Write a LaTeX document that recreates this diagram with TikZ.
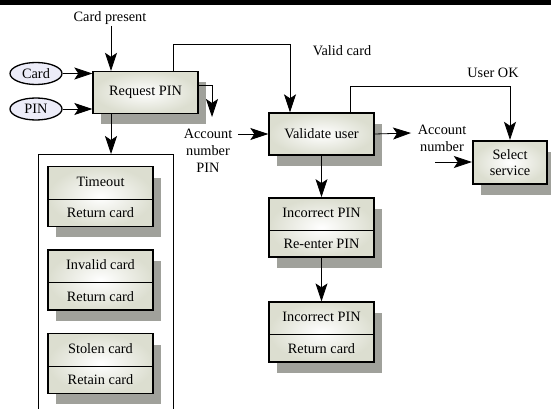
\documentclass[tikz,border=0pt]{standalone}
\usepackage{fontspec}
\setmainfont{Liberation Serif}
\usetikzlibrary{arrows.meta,positioning,shapes.geometric,shapes.multipart,shadows,calc}
\definecolor{boxfill}{RGB}{220,222,208}
\definecolor{shadowgrey}{RGB}{160,161,155}
\definecolor{ovalfill}{RGB}{236,236,248}
\tikzset{activity/.style={
  % The shape:
  rectangle,
  % The size:
  minimum width=105pt, minimum height=42pt,
  % The border:
  line width=1.4pt, draw=black,
  % The filling:
  inner color=white, outer color=boxfill,
  % The shadow:
  drop shadow={shadow xshift=8pt, shadow yshift=-11pt, fill=shadowgrey, opacity=1},
  }
}
\tikzset{twopart/.style={
  % Two stacked parts:
  activity, rectangle split, rectangle split parts=2,
  rectangle split draw splits=false,
  % The size of each part:
  text height=11pt, text depth=4pt, inner ysep=8pt,
  }
}
\tikzset{source/.style={
  % The shape:
  ellipse,
  minimum width=52pt, minimum height=22pt, inner sep=0pt,
  % The rest
  line width=1.3pt, draw=black, fill=ovalfill,
  }
}

\begin{document}
\begin{tikzpicture}[x=1pt, y=-1pt, font=\fontsize{14.3pt}{17pt}\selectfont,
    flow/.style={line width=0.8pt, -{Stealth[length=18pt, width=12pt, inset=4pt]}},
    divider/.style={line width=0.6pt}]
  \useasboundingbox (0,0) rectangle (551,409);
  \fill (0,0) rectangle (551,5);

  % Inputs
  \node (card) [source] at (36,73.5) {Card};
  \node (pin)  [source] at (36,109)  {PIN};

  % Container of the failure cases
  \node (alarms) [draw, line width=0.8pt, minimum width=135pt, minimum height=270pt,
        anchor=north] at (105.5,154) {};

  % Activities
  \node (reqpin) [activity] at (145.5,92.5) {Request PIN};
  \node (valid)  [activity] at (321.5,134)  {Validate user};
  \node (select) [activity, minimum width=74pt, minimum height=43pt, line width=2.4pt,
        align=center, font=\fontsize{14.3pt}{16pt}\selectfont] at (510,162.5) {Select\\service};

  \node (retry)  [twopart] at (321.5,227.5) {Incorrect PIN \nodepart{two} Re-enter PIN};
  \node (fail)   [twopart] at (321.5,332)   {Incorrect PIN \nodepart{two} Return card};

  \node (timeout) [twopart] at (100.5,196.5) {Timeout \nodepart{two} Return card};
  \node (invalid) [twopart] at (100.5,280)   {Invalid card \nodepart{two} Return card};
  \node (stolen)  [twopart] at (100.5,363.5) {Stolen card \nodepart{two} Retain card};

  \foreach \n in {retry,fail,timeout,invalid,stolen}
    \draw[divider] (\n.text split west) -- (\n.text split east);

  % Labels
  \node (present) at (110,18)  {Card present};
  \node (validlbl) at (342,51) {Valid card};
  \node (userok) at (493,73)   {User OK};
  \node (acctpin) [align=center] at (208,151) {Account\\number\\PIN};
  \node (acctnum) [align=center] at (442,138) {Account\\number};

  % Free ends
  \coordinate (cardin)  at (111,26);
  \coordinate (pinout)  at (212,117);
  \coordinate (acctin)  at (238,134);
  \coordinate (acctout) at (411,133);
  \coordinate (selin)   at (435,162);

  % Connectors
  \draw[flow] (cardin) -- (cardin |- reqpin.north);
  \draw[flow] (card.east) -- (reqpin.west |- card.east);
  \draw[flow] (pin.east) -- (reqpin.west |- pin.east);
  \draw[flow] ([yshift=7.5pt]reqpin.east) -| (pinout);
  \draw[flow] ([xshift=5.5pt]alarms.north |- reqpin.south) -- ([xshift=5.5pt]alarms.north);
  \draw[flow] ([xshift=27.5pt]reqpin.north) -- ++(0,-26) -| ([xshift=-31.5pt]valid.north);
  \draw[flow] (acctin) -- (acctin -| valid.west);
  \draw[flow] ([xshift=28.5pt]valid.north) -- ++(0,-26) -| (select.north);
  \draw[flow] (valid.east) -- (acctout);
  \draw[flow] (selin) -- (selin -| select.west);
  \draw[flow] (valid.south) -- (retry.north);
  \draw[flow] (retry.south) -- (fail.north);
\end{tikzpicture}
\end{document}
